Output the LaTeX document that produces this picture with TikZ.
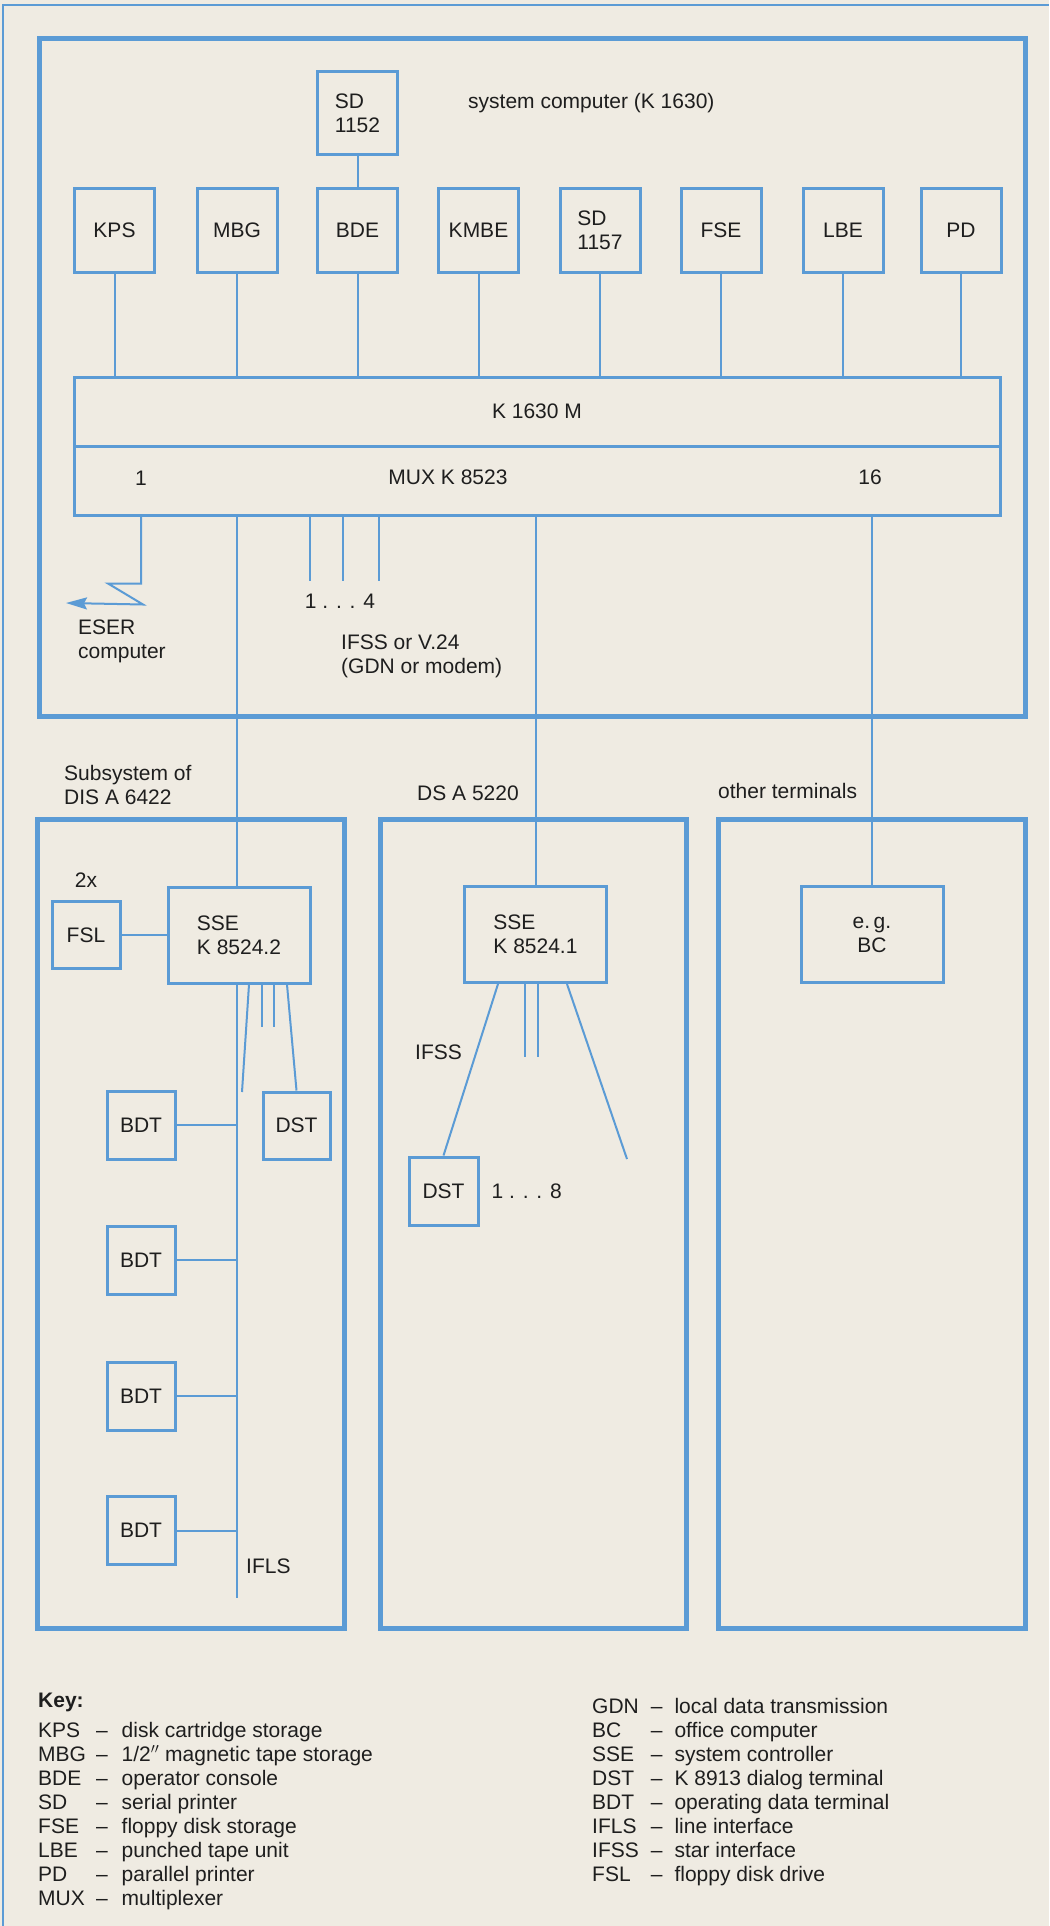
\documentclass[tikz,border=0pt]{standalone}
\usepackage{fontspec}
\setmainfont{Liberation Sans}
\usepackage{tikz}
\usetikzlibrary{arrows.meta, positioning, calc}
\definecolor{paper}{HTML}{EFEBE2}
\definecolor{wireblue}{HTML}{5B9BD5}
\definecolor{ink}{HTML}{1E1E1E}

\begin{document}
\begin{tikzpicture}[
    x=1pt, y=-1pt,
    >={Stealth[length=21pt, width=12pt, inset=3pt]},
    unit/.style={draw=wireblue, line width=3pt, minimum width=80pt, minimum height=83pt, align=left, inner sep=0pt, font=\fontsize{21}{24}\selectfont, text=ink},
    term/.style={unit, minimum width=68pt, minimum height=68pt},
    ctrl/.style={unit, minimum width=142pt, minimum height=96pt},
    bar/.style={draw=wireblue, line width=3pt, minimum width=926pt, minimum height=69pt, inner sep=0pt, font=\fontsize{21}{24}\selectfont, text=ink},
    frame/.style={draw=wireblue, line width=5pt, inner sep=0pt},
    wire/.style={draw=wireblue, line width=2pt},
    txt/.style={font=\fontsize{21}{24}\selectfont, text=ink, align=left, inner sep=0pt},
]
    \useasboundingbox (0,0) rectangle (1049,1926);
    \fill[paper] (0,0) rectangle (1049,1926);
    \draw[wire] (3,1926) -- (3,5) -- (1049,5);

    % System computer
    \node[frame, minimum width=986pt, minimum height=677pt] (syscomp) at (532,377.5) {};
    \node[txt, anchor=west] (syslbl) at (468,103) {system computer (K 1630)};

    \node[unit] (sda) at (357.5,113.5) {SD\\1152};
    \node[unit] (kps) at (114.5,230.5) {KPS};
    \node[unit] (mbg) at (237,230.5) {MBG};
    \node[unit] (bde) at (357.5,230.5) {BDE};
    \node[unit] (kmbe) at (478.5,230.5) {KMBE};
    \node[unit] (sdb) at (600,230.5) {SD\\1157};
    \node[unit] (fse) at (721,230.5) {FSE};
    \node[unit] (lbe) at (843,230.5) {LBE};
    \node[unit] (pd) at (961,230.5) {PD};

    \node[bar] (k1630) at (537,411.5) {K 1630 M};
    \node[bar] (mux) at (537,480.5) {};
    \node[txt] (muxlbl) at (448,477) {MUX K 8523};
    \node[txt] (muxone) at (141,478) {1};
    \node[txt] (muxlast) at (870,477) {16};

    \draw[wire] (sda) -- (bde);
    \draw[wire] (kps) -- (kps |- k1630.north);
    \draw[wire] (mbg) -- (mbg |- k1630.north);
    \draw[wire] (bde) -- (bde |- k1630.north);
    \draw[wire] (kmbe) -- (kmbe |- k1630.north);
    \draw[wire] (sdb) -- (sdb |- k1630.north);
    \draw[wire] (fse) -- (fse |- k1630.north);
    \draw[wire] (lbe) -- (lbe |- k1630.north);
    \draw[wire] (pd) -- (pd |- k1630.north);

    % ESER link
    \coordinate (eserend) at (66,603);
    \draw[wire, ->] (mux.south -| muxone) -- ++(0,67) -- ++(-33,0) -- ++(35,21) -- (eserend);
    \node[txt, anchor=west] (eser) at (78,641) {ESER\\computer};

    % IFSS / V.24 lines
    \coordinate (ifssa) at (310,581);
    \coordinate (ifssb) at (343,581);
    \coordinate (ifssc) at (379,581);
    \draw[wire] (mux.south -| ifssa) -- (ifssa);
    \draw[wire] (mux.south -| ifssb) -- (ifssb);
    \draw[wire] (mux.south -| ifssc) -- (ifssc);
    \node[txt] (ifssnum) at (340,601) {1 . . . 4};
    \node[txt, anchor=west] (ifsslbl) at (341,656) {IFSS or V.24\\(GDN or modem)};

    % Subsystems
    \node[frame, minimum width=307pt, minimum height=809pt] (dis) at (190.5,1223.5) {};
    \node[frame, minimum width=306pt, minimum height=809pt] (dsa) at (533,1223.5) {};
    \node[frame, minimum width=307pt, minimum height=809pt] (other) at (871.5,1223.5) {};
    \node[txt, anchor=west] (dislbl) at (64,785) {Subsystem of\\DIS A 6422};
    \node[txt, anchor=west] (dslbl) at (417,793) {DS A 5220};
    \node[txt, anchor=west] (otherlbl) at (718,791) {other terminals};

    % DIS A 6422
    \node[ctrl] (sse2) at (239,935) {SSE\\K 8524.2};
    \node[term, minimum height=67pt] (fsl) at (86,935) {FSL};
    \node[txt, above=12pt of fsl] (twox) {2x};
    \draw[wire] (fsl) -- (sse2);
    \coordinate (busend) at (237,1598);
    \draw[wire] (mux.south -| busend) -- (sse2.north -| busend);
    \draw[wire] (sse2.south -| busend) -- (busend);
    \node[txt, anchor=west] (ifls) at (246,1566) {IFLS};

    \node[term, minimum width=67pt, minimum height=67pt] (dst2) at (296.5,1125.5) {DST};
    \coordinate (disslant) at (242,1092);
    \coordinate (disstuba) at (262,1027);
    \coordinate (disstubb) at (274,1027);
    \draw[wire] ($(sse2.south)+(10,0)$) -- (disslant);
    \draw[wire] (sse2.south -| disstuba) -- (disstuba);
    \draw[wire] (sse2.south -| disstubb) -- (disstubb);
    \draw[wire] ($(sse2.south)+(48,0)$) -- (dst2.north);

    \node[term] (bdta) at (141,1125) {BDT};
    \node[term] (bdtb) at (141,1260) {BDT};
    \node[term] (bdtc) at (141,1396) {BDT};
    \node[term] (bdtd) at (141,1530.5) {BDT};
    \draw[wire] (bdta) -- (bdta -| busend);
    \draw[wire] (bdtb) -- (bdtb -| busend);
    \draw[wire] (bdtc) -- (bdtc -| busend);
    \draw[wire] (bdtd) -- (bdtd -| busend);

    % DS A 5220
    \node[ctrl] (sse1) at (535.5,934.5) {SSE\\K 8524.1};
    \draw[wire] (mux.south -| sse1) -- (sse1.north);
    \node[term, minimum width=69pt] (dst1) at (443.5,1191) {DST};
    \node[txt, right=12pt of dst1] (dstnum) {1 . . . 8};
    \coordinate (dsstuba) at (525,1057);
    \coordinate (dsstubb) at (538,1057);
    \coordinate (dsslant) at (627,1159);
    \draw[wire] ($(sse1.south)+(-37.5,0)$) -- (dst1.north);
    \draw[wire] (sse1.south -| dsstuba) -- (dsstuba);
    \draw[wire] (sse1.south -| dsstubb) -- (dsstubb);
    \draw[wire] ($(sse1.south)+(31.5,0)$) -- (dsslant);
    \node[txt, anchor=west] (ifss) at (415,1052) {IFSS};

    % Other terminals
    \node[ctrl, align=center] (bc) at (872,934.5) {e.\,g.\\BC};
    \draw[wire] (mux.south -| bc) -- (bc.north);

    % Key
    \node[txt, font=\fontsize{21}{24}\selectfont\bfseries, anchor=west] (keyhead) at (38,1702) {Key:};
    \node[txt, anchor=north west] (keyleft) at (38,1720) {%
        \begin{tabular}{@{}l@{\hspace{10pt}}l@{\hspace{14pt}}l@{}}
        KPS & -- & disk cartridge storage\\
        MBG & -- & 1/2$''$ magnetic tape storage\\
        BDE & -- & operator console\\
        SD  & -- & serial printer\\
        FSE & -- & floppy disk storage\\
        LBE & -- & punched tape unit\\
        PD  & -- & parallel printer\\
        MUX & -- & multiplexer
        \end{tabular}};
    \node[txt, anchor=north west] (keyright) at (592,1696) {%
        \begin{tabular}{@{}l@{\hspace{12pt}}l@{\hspace{12pt}}l@{}}
        GDN  & -- & local data transmission\\
        BC   & -- & office computer\\
        SSE  & -- & system controller\\
        DST  & -- & K 8913 dialog terminal\\
        BDT  & -- & operating data terminal\\
        IFLS & -- & line interface\\
        IFSS & -- & star interface\\
        FSL  & -- & floppy disk drive
        \end{tabular}};
\end{tikzpicture}
\end{document}
